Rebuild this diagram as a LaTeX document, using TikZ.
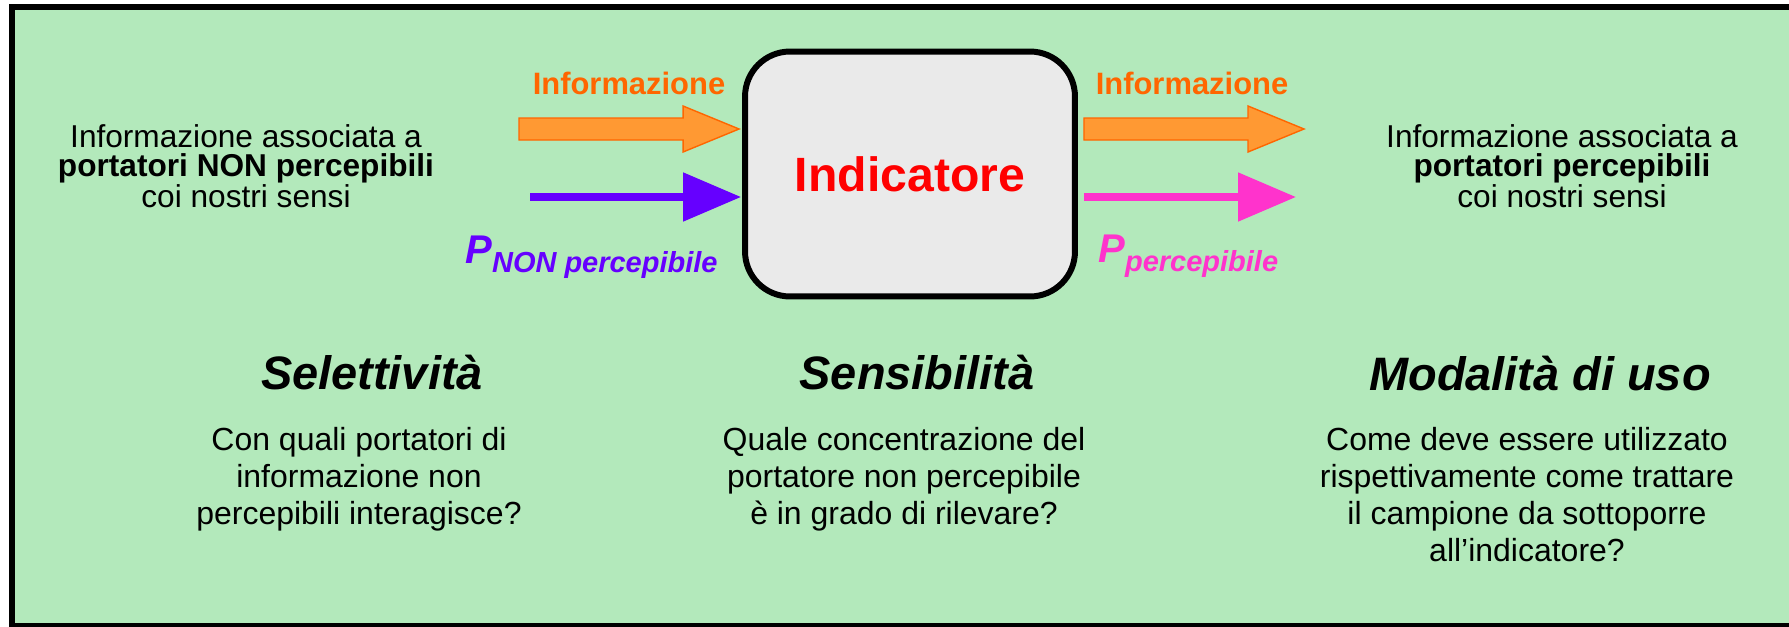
\documentclass[tikz,border=0pt]{standalone}
\usepackage{fontspec}
\setmainfont{Liberation Sans}
\usetikzlibrary{arrows.meta,calc}

\definecolor{bggreen}{RGB}{179,233,187}
\definecolor{infoorange}{RGB}{255,102,0}
\definecolor{arrowfill}{RGB}{255,153,51}
\definecolor{npviolet}{RGB}{102,0,255}
\definecolor{ppink}{RGB}{255,51,204}
\definecolor{boxgray}{RGB}{234,234,234}

% P with a subscript, for the two carriers
\newcommand{\carrier}[1]{{\fontsize{22.8}{24}\selectfont\bfseries\itshape P}%
  \raisebox{-5.5pt}{\fontsize{16.5}{18}\selectfont\bfseries\itshape #1}}
% fat orange arrow from #1 (tail) to #2 (tip)
\newcommand{\fatarrow}[2]{%
  \filldraw [fatarrow] ($(#1)+(0,-11)$) -- ($(#2)+(-56,-11)$) -- ($(#2)+(-56,-23)$)
    -- (#2) -- ($(#2)+(-56,23)$) -- ($(#2)+(-56,11)$) -- ($(#1)+(0,11)$) -- cycle;}

\begin{document}
\begin{tikzpicture}[x=0.02cm, y=-0.02cm,
    txt/.style={align=center, font=\fontsize{18}{16.4}\selectfont},
    body/.style={align=center, anchor=north, inner sep=0pt, font=\fontsize{18.2}{21.1}\selectfont},
    heading/.style={anchor=base, inner sep=0pt, font=\fontsize{26.7}{30}\selectfont\bfseries\itshape},
    info/.style={text=infoorange, font=\fontsize{17.6}{20}\selectfont\bfseries},
    fatarrow/.style={draw=infoorange, fill=arrowfill, line width=0.8pt},
    thinarrow/.style={line width=4pt, -{Triangle[length=33pt, width=27pt]}}]
  \clip (0,0) rectangle (1789,626);
  \draw [line width=3.4pt, fill=bggreen] (12,7) rectangle (1840,626);

  \node [draw, line width=3.4pt, fill=boxgray, rounded corners=0.9cm,
    minimum width=6.6cm, minimum height=4.9cm, text=red,
    font=\fontsize{27.4}{30}\selectfont\bfseries] (ind) at (910,174) {Indicatore};

  % information in and out
  \coordinate (infoin) at (519,129);
  \coordinate (infotip) at ($(ind.west |- infoin)+(-3,0)$);
  \fatarrow{infoin}{infotip}
  \coordinate (infoend) at (1304,129);
  \coordinate (infostart) at ($(ind.east |- infoend)+(6,0)$);
  \fatarrow{infostart}{infoend}
  \node [info] (infoinlabel) at (629,83) {Informazione};
  \node [info] (infooutlabel) at (1192,83) {Informazione};

  % carriers
  \coordinate (npstart) at (530,197);
  \draw [thinarrow, npviolet] (npstart) -- ($(ind.west |- npstart)+(-1,0)$);
  \coordinate (pend) at (1296,197);
  \draw [thinarrow, ppink] ($(ind.east |- pend)+(6,0)$) -- (pend);
  \node [anchor=base west, inner sep=0pt, text=npviolet] (pnon) at (465,263) {\carrier{NON percepibile}};
  \node [anchor=base west, inner sep=0pt, text=ppink] (pperc) at (1098,262) {\carrier{percepibile}};

  \node [txt] (srcinfo) at (246,166) {Informazione associata a\\ \textbf{portatori NON percepibili}\\ coi nostri sensi};
  \node [txt] (outinfo) at (1562,166) {Informazione associata a\\ \textbf{portatori percepibili}\\ coi nostri sensi};

  \node [heading] (sel) at (372,389) {Selettività};
  \node [heading] (sens) at (917,389) {Sensibilità};
  \node [heading] (mod) at (1540,390) {Modalità di uso};

  \node [body] (seltxt) at (359,427) {Con quali portatori di\\ informazione non\\ percepibili interagisce?};
  \node [body] (senstxt) at (904,427) {Quale concentrazione del\\ portatore non percepibile\\ è in grado di rilevare?};
  \node [body] (modtxt) at (1527,427) {Come deve essere utilizzato\\ rispettivamente come trattare\\ il campione da sottoporre\\ all’indicatore?};
\end{tikzpicture}
\end{document}
